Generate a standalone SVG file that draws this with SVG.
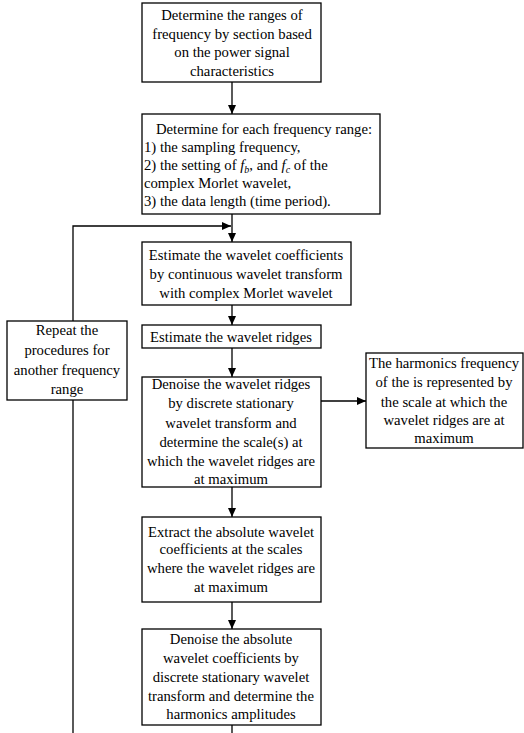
<svg xmlns="http://www.w3.org/2000/svg" width="524" height="733" viewBox="0 0 524 733">
<style>
.b{fill:#fff;stroke:#000;stroke-width:1.3}
text{font-family:'Times New Roman','Liberation Serif',Times,serif;font-size:14.7px;fill:#000;text-anchor:middle}
.l{text-anchor:start}
.c{fill:none;stroke:#000;stroke-width:1.3}
.i{font-style:italic}
</style>
<defs>
<marker id="ah" markerWidth="10" markerHeight="8" refX="9" refY="4" orient="auto" markerUnits="userSpaceOnUse">
<path d="M0,0 L9,4 L0,8 z" fill="#000"/>
</marker>
</defs>
<rect width="524" height="733" fill="#fff"/>
<g id="connectors">
<line class="c" x1="232" y1="82" x2="232" y2="114" marker-end="url(#ah)"/>
<line class="c" x1="232" y1="214" x2="232" y2="242" marker-end="url(#ah)"/>
<polyline class="c" points="73,321 73,226 231,226" marker-end="url(#ah)"/>
<line class="c" x1="232" y1="305" x2="232" y2="325" marker-end="url(#ah)"/>
<line class="c" x1="232" y1="348" x2="232" y2="377" marker-end="url(#ah)"/>
<line class="c" x1="321" y1="401" x2="366" y2="401" marker-end="url(#ah)"/>
<line class="c" x1="232" y1="487" x2="232" y2="517" marker-end="url(#ah)"/>
<line class="c" x1="232" y1="602" x2="232" y2="629" marker-end="url(#ah)"/>
<line class="c" x1="232" y1="725" x2="232" y2="733"/>
<line class="c" x1="73" y1="400" x2="73" y2="733"/>
</g>
<g id="n1">
<rect class="b" x="142" y="3" width="179" height="79"/>
<text x="232" y="20">Determine the ranges of</text>
<text x="232" y="39">frequency by section based</text>
<text x="232" y="57">on the power signal</text>
<text x="232" y="76">characteristics</text>
</g>
<g id="n2">
<rect class="b" x="142" y="114" width="238" height="100"/>
<text x="264" y="134">Determine for each frequency range:</text>
<text class="l" x="144" y="152">1) the sampling frequency,</text>
<text class="l" x="144" y="170">2) the setting of <tspan class="i">f</tspan><tspan class="i" font-size="10" dy="3">b</tspan><tspan dy="-3">, and </tspan><tspan class="i">f</tspan><tspan class="i" font-size="10" dy="3">c</tspan><tspan dy="-3"> of the</tspan></text>
<text class="l" x="144" y="188">complex Morlet wavelet,</text>
<text class="l" x="144" y="206">3) the data length (time period).</text>
</g>
<g id="n3">
<rect class="b" x="142" y="242" width="209" height="63"/>
<text x="246" y="260">Estimate the wavelet coefficients</text>
<text x="246" y="279">by continuous wavelet transform</text>
<text x="246" y="298">with complex Morlet wavelet</text>
</g>
<g id="n4">
<rect class="b" x="142" y="325" width="179" height="23"/>
<text x="231" y="342">Estimate the wavelet ridges</text>
</g>
<g id="n5">
<rect class="b" x="7" y="321" width="120" height="79"/>
<text x="67" y="335">Repeat the</text>
<text x="67" y="355">procedures for</text>
<text x="67" y="375">another frequency</text>
<text x="67" y="394">range</text>
</g>
<g id="n6">
<rect class="b" x="142" y="377" width="179" height="110"/>
<text x="231" y="389">Denoise the wavelet ridges</text>
<text x="231" y="408">by discrete stationary</text>
<text x="231" y="428">wavelet transform and</text>
<text x="231" y="447">determine the scale(s) at</text>
<text x="231" y="466">which the wavelet ridges are</text>
<text x="231" y="484">at maximum</text>
</g>
<g id="n7">
<rect class="b" x="366" y="353" width="157" height="95"/>
<text x="444" y="368">The harmonics frequency</text>
<text x="444" y="387">of the is represented by</text>
<text x="444" y="407">the scale at which the</text>
<text x="444" y="425">wavelet ridges are at</text>
<text x="444" y="443">maximum</text>
</g>
<g id="n8">
<rect class="b" x="142" y="517" width="179" height="85"/>
<text x="231" y="537">Extract the absolute wavelet</text>
<text x="231" y="554">coefficients at the scales</text>
<text x="231" y="573">where the wavelet ridges are</text>
<text x="231" y="592">at maximum</text>
</g>
<g id="n9">
<rect class="b" x="142" y="629" width="179" height="96"/>
<text x="231" y="644">Denoise the absolute</text>
<text x="231" y="663">wavelet coefficients by</text>
<text x="231" y="682">discrete stationary wavelet</text>
<text x="231" y="701">transform and determine the</text>
<text x="231" y="719">harmonics amplitudes</text>
</g>
</svg>
